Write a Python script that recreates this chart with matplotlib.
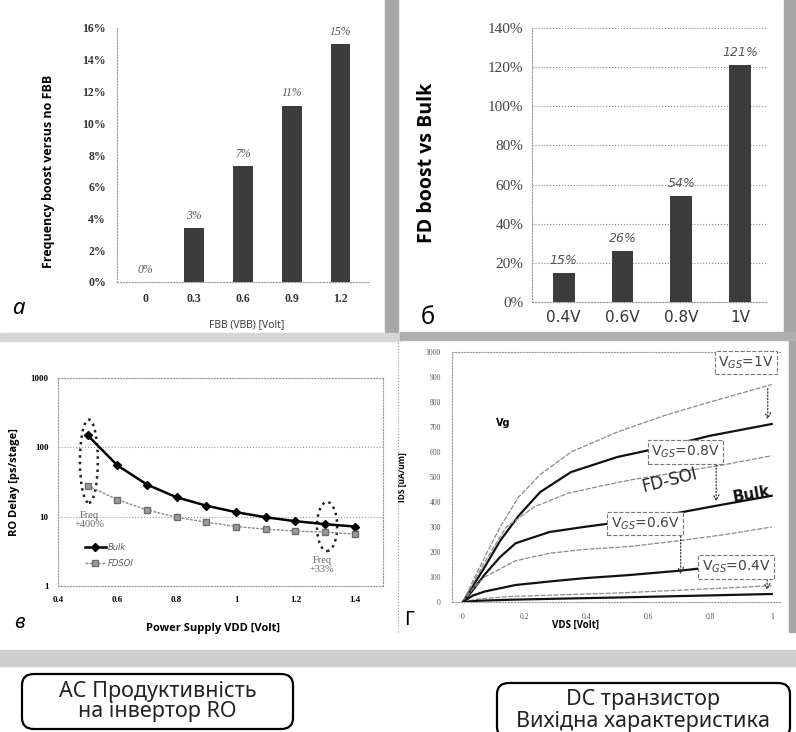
import matplotlib
matplotlib.use('Agg')
import matplotlib.pyplot as plt
from matplotlib.patches import Rectangle, Ellipse, FancyBboxPatch

W, H = 796, 732

# panel a: frequency boost vs FBB
a_cats = ['0', '0.3', '0.6', '0.9', '1.2']
a_vals = [0, 3.4, 7.3, 11.1, 15.0]
a_text = ['0%', '3%', '7%', '11%', '15%']

# panel b: FD boost vs bulk
b_cats = ['0.4V', '0.6V', '0.8V', '1V']
b_vals = [15, 26, 54, 121]
b_text = ['15%', '26%', '54%', '121%']

# panel c: RO delay
vdd = [0.5, 0.6, 0.7, 0.8, 0.9, 1.0, 1.1, 1.2, 1.3, 1.4]
delay_bulk = [149, 55, 29, 19, 14.4, 11.6, 9.8, 8.6, 7.8, 7.2]
delay_fdsoi = [28, 17.6, 12.5, 9.8, 8.3, 7.2, 6.6, 6.2, 6.0, 5.6]

# panel d: IDS-VDS curves
fd_1v_x = [0, 0.03, 0.07, 0.12, 0.18, 0.25, 0.35, 0.5, 0.65, 0.8, 1.0]
fd_1v_y = [0, 80, 180, 300, 420, 510, 600, 680, 745, 800, 870]
bk_1v_x = [0, 0.03, 0.07, 0.12, 0.18, 0.25, 0.35, 0.5, 0.65, 0.8, 1.0]
bk_1v_y = [0, 60, 140, 245, 345, 440, 520, 580, 620, 665, 712]
fd_08_x = [0, 0.03, 0.07, 0.14, 0.23, 0.34, 0.45, 0.55, 0.7, 0.85, 1.0]
fd_08_y = [0, 70, 160, 300, 380, 435, 465, 490, 520, 550, 585]
bk_08_x = [0, 0.03, 0.07, 0.12, 0.17, 0.28, 0.39, 0.5, 0.69, 0.82, 1.0]
bk_08_y = [0, 45, 110, 180, 235, 280, 300, 318, 355, 385, 425]
fd_06_x = [0, 0.03, 0.07, 0.17, 0.28, 0.39, 0.54, 0.7, 0.85, 1.0]
fd_06_y = [0, 50, 100, 165, 195, 210, 222, 245, 270, 300]
bk_06_x = [0, 0.03, 0.07, 0.17, 0.28, 0.39, 0.54, 0.7, 0.85, 1.0]
bk_06_y = [0, 25, 42, 68, 82, 95, 108, 125, 145, 165]
fd_04_x = [0, 0.05, 0.15, 0.3, 0.5, 0.75, 1.0]
fd_04_y = [0, 12, 22, 28, 36, 50, 65]
bk_04_x = [0, 0.05, 0.15, 0.3, 0.5, 0.75, 1.0]
bk_04_y = [0, 5, 9, 13, 18, 25, 32]


def box(x0, y0, x1, y1):
    # pixel box (top-left origin) -> figure fraction rect
    return [x0 / W, 1 - y1 / H, (x1 - x0) / W, (y1 - y0) / H]


fig = plt.figure(figsize=(7.96, 7.32), dpi=100)

# scan edges
for (x0, y0, x1, y1, c) in [(385, 0, 398, 334, '#a6a6a6'), (784, 0, 796, 334, '#a6a6a6'),
                            (789, 334, 796, 632, '#a6a6a6'), (0, 333, 400, 341, '#d6d6d6'),
                            (400, 332, 796, 340, '#b0b0b0'), (0, 650, 796, 666, '#cfcfcf')]:
    fig.patches.append(Rectangle((x0 / W, 1 - y1 / H), (x1 - x0) / W, (y1 - y0) / H,
                                 transform=fig.transFigure, color=c, zorder=0))

# ---- panel a ----
ax1 = fig.add_axes(box(117, 28, 370, 282))
ax1.bar(range(len(a_cats)), a_vals, width=0.4, color='#3c3c3c')
for i, v in enumerate(a_vals):
    ax1.text(i, v + 0.4, a_text[i], ha='center', va='bottom', fontsize=8.5,
             style='italic', color='#555555', family='Liberation Serif')
ax1.set_xlim(-0.58, 4.6)
ax1.set_ylim(0, 16)
ax1.set_yticks(range(0, 17, 2))
ax1.set_yticklabels(['%d%%' % t for t in range(0, 17, 2)])
ax1.set_xticks(range(len(a_cats)))
ax1.set_xticklabels(a_cats)
for lab in ax1.get_xticklabels() + ax1.get_yticklabels():
    lab.set_family('Liberation Serif')
    lab.set_weight('bold')
    lab.set_fontsize(8.5)
    lab.set_color('#333333')
ax1.tick_params(length=0, pad=8)
for s in ['top', 'right']:
    ax1.spines[s].set_visible(False)
for s in ['left', 'bottom']:
    ax1.spines[s].set_linestyle(':')
    ax1.spines[s].set_color('#999999')
ax1.set_ylabel('Frequency boost versus no FBB', fontsize=9, fontweight='bold', family='Open Sans')
ax1.yaxis.set_label_coords(-0.245, 0.437)
ax1.set_xlabel('FBB (VBB) [Volt]', fontsize=7.5, family='Open Sans', color='#333333')
ax1.xaxis.set_label_coords(0.514, -0.145)
fig.text(12 / W, 1 - 308 / H, 'а', fontsize=16, style='italic', family='Noto Sans', va='center')

# ---- panel b ----
ax2 = fig.add_axes(box(532, 28, 767, 302))
ax2.bar(range(len(b_cats)), b_vals, width=0.37, color='#3c3c3c', zorder=3)
for i, v in enumerate(b_vals):
    ax2.text(i, v + 3, b_text[i], ha='center', va='bottom', fontsize=9,
             style='italic', color='#555555')
ax2.set_xlim(-0.54, 3.46)
ax2.set_ylim(0, 140)
ax2.set_yticks(range(0, 141, 20))
ax2.set_yticklabels(['%d%%' % t for t in range(0, 141, 20)])
ax2.set_xticks(range(len(b_cats)))
ax2.set_xticklabels(b_cats)
ax2.tick_params(axis='y', labelsize=11, labelcolor='#444444', labelfontfamily='Liberation Serif')
ax2.tick_params(axis='x', labelsize=11, labelcolor='#333333')
ax2.tick_params(length=0, pad=6)
ax2.grid(axis='y', linestyle=':', color='#888888', lw=0.8, zorder=0)
for s in ['top', 'right']:
    ax2.spines[s].set_visible(False)
for s in ['left', 'bottom']:
    ax2.spines[s].set_linestyle(':')
    ax2.spines[s].set_color('#999999')
ax2.set_ylabel('FD boost vs Bulk', fontsize=14, fontweight='bold', family='Open Sans')
ax2.yaxis.set_label_coords(-0.404, 0.507)
fig.text(421 / W, 1 - 318 / H, 'б', fontsize=17, family='Noto Sans', va='center')

# ---- panel c ----
ax3 = fig.add_axes(box(58, 378, 383, 586))
ax3.set_yscale('log')
ax3.plot(vdd, delay_bulk, color='black', lw=1.8, marker='D', markersize=4, label='Bulk')
ax3.plot(vdd, delay_fdsoi, color='#8c8c8c', lw=1.0, ls=(0, (2, 1)), marker='s', markersize=5,
         markerfacecolor='#9a9a9a', markeredgecolor='#6e6e6e', label='FDSOI')
ax3.set_xlim(0.4, 1.495)
ax3.set_ylim(1, 1000)
ax3.set_xticks([0.4, 0.6, 0.8, 1.0, 1.2, 1.4])
ax3.set_xticklabels(['0.4', '0.6', '0.8', '1', '1.2', '1.4'])
ax3.set_yticks([1, 10, 100, 1000])
ax3.set_yticklabels(['1', '10', '100', '1000'])
ax3.minorticks_off()
for lab in ax3.get_xticklabels() + ax3.get_yticklabels():
    lab.set_family('Liberation Serif')
    lab.set_weight('bold')
    lab.set_fontsize(6.5)
ax3.tick_params(length=0, pad=7)
ax3.grid(axis='y', linestyle=':', color='#999999', lw=0.8)
for s in ax3.spines.values():
    s.set_linestyle(':')
    s.set_color('#999999')
ax3.add_patch(Ellipse((0.095, 0.60), 0.055, 0.40, transform=ax3.transAxes, fill=False,
                      ls=':', lw=1.8, color='#222222'))
ax3.add_patch(Ellipse((0.828, 0.286), 0.062, 0.236, transform=ax3.transAxes, fill=False,
                      ls=':', lw=1.8, color='#222222'))
ax3.text(0.505, 9, 'Freq\n+400%', ha='center', va='center', fontsize=7.5, color='#666666',
         family='Liberation Serif', linespacing=1.0)
ax3.text(1.29, 2.0, 'Freq\n+33%', ha='center', va='center', fontsize=7.5, color='#666666',
         family='Liberation Serif', linespacing=1.0)
leg = ax3.legend(loc='lower left', bbox_to_anchor=(0.06, 0.05), frameon=False, fontsize=6,
                 handlelength=2.5, labelspacing=0.9, handletextpad=0.2)
for t in leg.get_texts():
    t.set_style('italic')
    t.set_color('#555555')
ax3.set_ylabel('RO Delay [ps/stage]', fontsize=8, fontweight='bold', family='Open Sans')
ax3.yaxis.set_label_coords(-0.117, 0.5)
ax3.set_xlabel('Power Supply VDD [Volt]', fontsize=8, fontweight='bold', family='Open Sans')
ax3.xaxis.set_label_coords(0.477, -0.178)
fig.text(14 / W, 1 - 622 / H, 'в', fontsize=15, style='italic', fontweight='bold',
         family='Noto Sans', va='center')

# ---- panel d ----
ax4 = fig.add_axes(box(452, 352, 781, 602))
thin = dict(color='#8a8a8a', lw=0.9, ls=(0, (4, 1.2)))
thick = dict(color='#111111', lw=1.6)
ax4.plot(fd_1v_x, fd_1v_y, **thin)
ax4.plot(bk_1v_x, bk_1v_y, **thick)
ax4.plot(fd_08_x, fd_08_y, **thin)
ax4.plot(bk_08_x, bk_08_y, **thick)
ax4.plot(fd_06_x, fd_06_y, **thin)
ax4.plot(bk_06_x, bk_06_y, **thick)
ax4.plot(fd_04_x, fd_04_y, **thin)
ax4.plot(bk_04_x, bk_04_y, **thick)
ax4.set_xlim(-0.036, 1.03)
ax4.set_ylim(0, 1000)
ax4.set_yticks(range(0, 1001, 100))
ax4.set_xticks([0, 0.2, 0.4, 0.6, 0.8, 1.0])
ax4.set_xticklabels(['0', '0.2', '0.4', '0.6', '0.8', '1'])
for lab in ax4.get_xticklabels() + ax4.get_yticklabels():
    lab.set_family('Liberation Serif')
    lab.set_fontsize(5.5)
    lab.set_color('#555555')
ax4.tick_params(length=0, pad=8)
for s in ['right']:
    ax4.spines[s].set_visible(False)
for s in ['left', 'bottom', 'top']:
    ax4.spines[s].set_linestyle(':')
    ax4.spines[s].set_color('#999999')

vbox = dict(boxstyle='square,pad=0.25', fc='white', ec='#777777', ls='--', lw=0.8)
ax4.text(0.916, 958, 'V$_{GS}$=1V', ha='center', va='center', fontsize=10, color='#444444',
         bbox=vbox, zorder=5, clip_on=False)
ax4.text(0.72, 600, 'V$_{GS}$=0.8V', ha='center', va='center', fontsize=10, color='#444444',
         bbox=vbox, zorder=5)
ax4.text(0.59, 314, 'V$_{GS}$=0.6V', ha='center', va='center', fontsize=10, color='#444444',
         bbox=vbox, zorder=5)
ax4.text(0.885, 140, 'V$_{GS}$=0.4V', ha='center', va='center', fontsize=10, color='#444444',
         bbox=vbox, zorder=5)
ax4.text(0.67, 488, 'FD-SOI', ha='center', va='center', fontsize=12, rotation=14, color='#222222')
ax4.text(0.935, 430, 'Bulk', ha='center', va='center', fontsize=11, rotation=10,
         fontweight='bold', color='#111111')
ax4.text(0.13, 716, 'Vg', ha='center', va='center', fontsize=7, fontweight='bold')
arrow = dict(arrowstyle='->', ls=':', color='#333333', lw=0.9)
for (x, y0, y1) in [(0.987, 865, 718), (0.82, 560, 390), (0.705, 288, 100), (0.985, 100, 35)]:
    ax4.annotate('', xy=(x, y1), xytext=(x, y0), arrowprops=arrow)
ax4.set_ylabel('IDS [uA/um]', fontsize=6, fontweight='bold', family='Open Sans')
ax4.yaxis.set_label_coords(-0.137, 0.5)
ax4.set_xlabel('VDS [Volt]', fontsize=7, fontweight='bold', family='Open Sans')
ax4.xaxis.set_label_coords(0.374, -0.072)
fig.text(404 / W, 1 - 620 / H, 'Г', fontsize=14, family='Noto Sans', va='center')
fig.add_artist(plt.Line2D([398 / W, 398 / W], [1 - 632 / H, 1 - 340 / H], ls=':', color='#999999', lw=0.8))

# ---- captions ----
for (x0, y0, x1, y1, txt) in [(22, 674, 293, 729, 'АС Продуктивність\nна інвертор RO'),
                              (497, 683, 790, 738, 'DC транзистор\nВихідна характеристика')]:
    fig.patches.append(FancyBboxPatch((x0 / W, 1 - y1 / H), (x1 - x0) / W, (y1 - y0) / H,
                                      boxstyle='round,pad=0,rounding_size=0.015',
                                      transform=fig.transFigure, fc='white', ec='black', lw=1.6))
    fig.text((x0 + x1) / 2 / W, 1 - (y0 + y1) / 2 / H, txt, ha='center', va='center',
             fontsize=15.5, family='Noto Sans', color='#222222', linespacing=1.0)

fig.savefig('out.png', dpi=100)
